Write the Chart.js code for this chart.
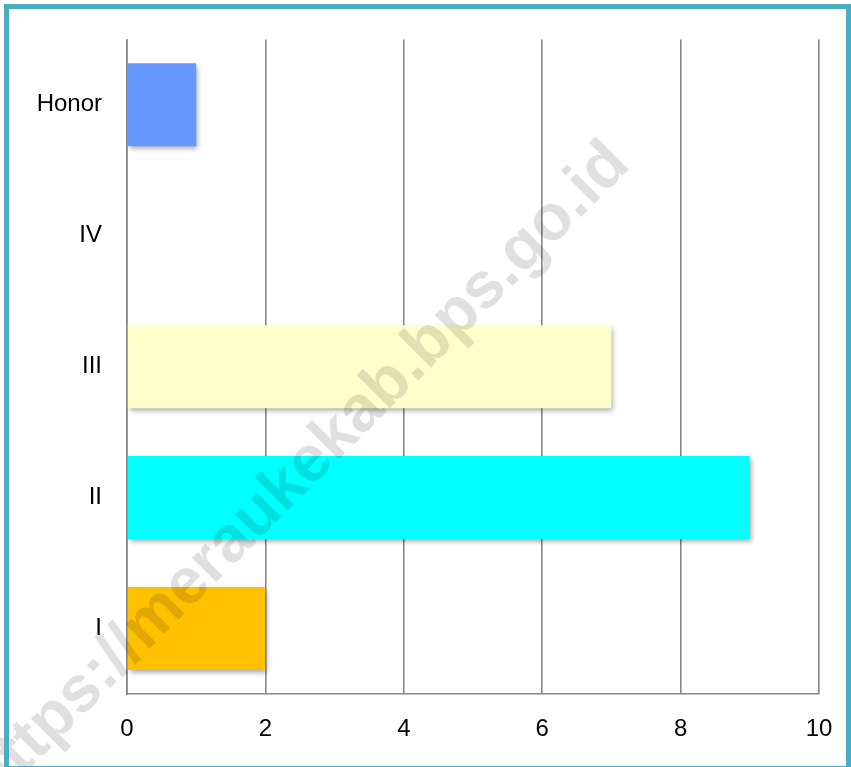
<!DOCTYPE html>
<html>
<head>
<meta charset="utf-8">
<script src="https://cdn.jsdelivr.net/npm/chart.js@4"></script>
<style>
  html, body { margin: 0; padding: 0; background: #ffffff; }
  canvas { display: block; }
</style>
</head>
<body>
<canvas id="c" width="851" height="767"></canvas>
<script>
// ---- data ----
const categories = ['Honor', 'IV', 'III', 'II', 'I'];
const values = [1, 0, 7, 9, 2];
const xTicks = [0, 2, 4, 6, 8, 10];
const watermarkText = 'https://meraukekab.bps.go.id';

// ---- styles ----
const barColors = ['#6699FF', '#9BBB59', '#FFFFCC', '#00FFFF', '#FFC000'];
const FONT = "'Liberation Sans', Arial, sans-serif";

const shadowPlugin = {
  id: 'barShadow',
  beforeDatasetsDraw(chart) {
    const ctx = chart.ctx;
    ctx.save();
    ctx.shadowColor = 'rgba(0,0,0,0.35)';
    ctx.shadowBlur = 5;
    ctx.shadowOffsetX = 2;
    ctx.shadowOffsetY = 3;
  },
  afterDatasetsDraw(chart) {
    chart.ctx.restore();
  }
};

const decorPlugin = {
  id: 'decor',
  afterDraw(chart) {
    const ctx = chart.ctx;
    // watermark
    ctx.save();
    ctx.translate(300, 473);
    ctx.rotate(-Math.PI / 4);
    ctx.font = "bold 65px " + FONT;
    ctx.fillStyle = 'rgba(0,0,0,0.12)';
    ctx.textAlign = 'center';
    ctx.textBaseline = 'middle';
    ctx.fillText(watermarkText, 0, 0);
    ctx.restore();
    // frame
    ctx.save();
    ctx.strokeStyle = '#4BACC6';
    ctx.lineWidth = 5;
    ctx.strokeRect(6.5, 6.5, 842, 762);
    ctx.restore();
  }
};

new Chart(document.getElementById('c'), {
  type: 'bar',
  data: {
    labels: categories,
    datasets: [{
      data: values,
      backgroundColor: barColors,
      borderWidth: 0,
      categoryPercentage: 1.0,
      barPercentage: 0.634
    }]
  },
  options: {
    indexAxis: 'y',
    responsive: false,
    animation: false,
    devicePixelRatio: 1,
    layout: { padding: { left: 0, top: 39, right: 32, bottom: 0 } },
    plugins: {
      legend: { display: false },
      tooltip: { enabled: false }
    },
    scales: {
      x: {
        min: 0,
        max: 10,
        afterBuildTicks(scale) {
          scale.ticks = xTicks.map(v => ({ value: v }));
        },
        afterFit(scale) {
          scale.height = 73;
          scale.paddingRight = 0;
          scale.paddingLeft = 0;
        },
        grid: {
          display: true,
          color: '#868686',
          lineWidth: 1.6,
          drawTicks: false
        },
        border: { display: true, color: '#868686', width: 1.6 },
        ticks: {
          padding: 21,
          color: '#000000',
          font: { family: FONT, size: 24 },
          maxRotation: 0
        }
      },
      y: {
        afterFit(scale) { scale.width = 127; },
        grid: { display: false, drawTicks: false },
        border: { display: true, color: '#868686', width: 1.6 },
        ticks: {
          padding: 25,
          color: '#000000',
          font: { family: FONT, size: 24 }
        }
      }
    }
  },
  plugins: [shadowPlugin, decorPlugin]
});
</script>
</body>
</html>
